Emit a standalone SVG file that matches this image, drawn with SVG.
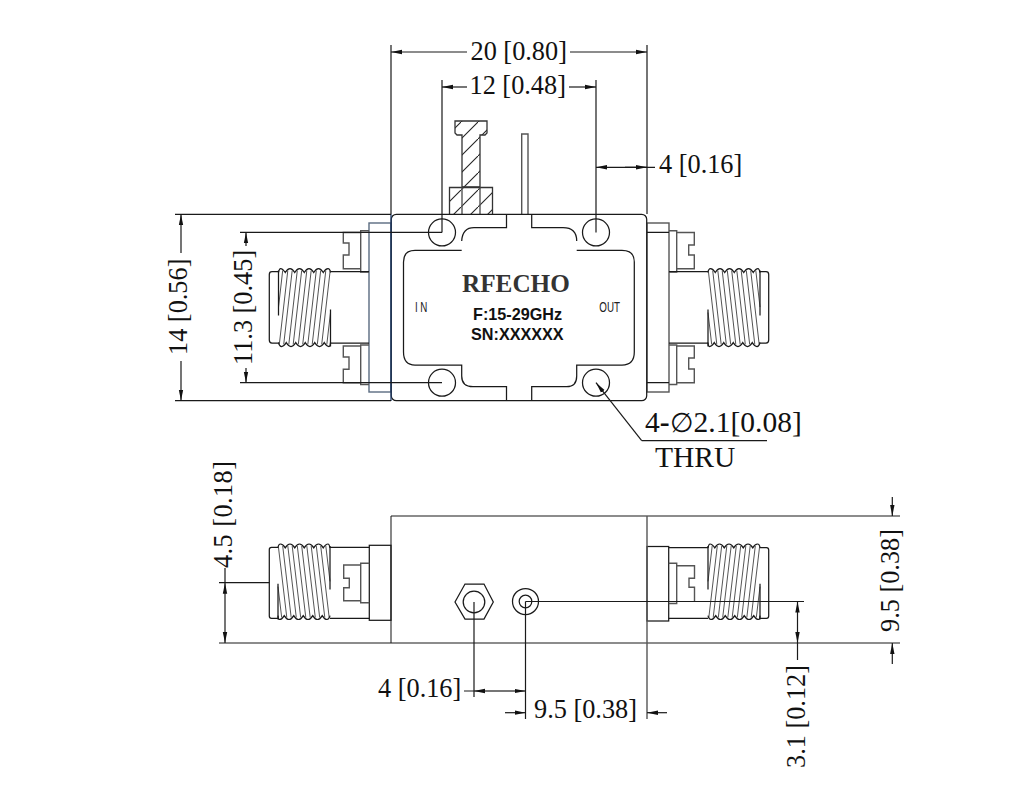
<svg xmlns="http://www.w3.org/2000/svg" width="1036" height="807" viewBox="0 0 1036 807">
<style>
.o{fill:none;stroke:#1a1a1a;stroke-width:1.25}
.g{fill:none;stroke:#555;stroke-width:1.4}
.d{fill:none;stroke:#1a1a1a;stroke-width:1.2}
.a{fill:none;stroke:#1a1a1a;stroke-width:1.2;marker-end:url(#arr)}
.t{fill:none;stroke:#333;stroke-width:.85}
.h{fill:url(#hatch);stroke:#333;stroke-width:1.3}
.dim{font-family:"Liberation Serif","Times New Roman",serif;font-size:26.3px;fill:#111}
.big{font-size:29.5px}
.lab{font-family:"Liberation Sans",Arial,sans-serif;font-size:14px;fill:#222}
.sn{font-family:"Liberation Sans",Arial,sans-serif;font-weight:bold;font-size:16.2px;fill:#111}
</style>
<defs>
<marker id="arr" markerUnits="userSpaceOnUse" markerWidth="12" markerHeight="6" refX="11" refY="3" orient="auto"><path d="M11,3 L0,.8 L0,5.2 Z" fill="#111"/></marker>
<pattern id="hatch" patternUnits="userSpaceOnUse" width="17" height="17" x="2" y="3"><path d="M-1,18 L18,-1" stroke="#222" stroke-width="1.1"/></pattern>
<g id="thread">
<path class="o" d="M0,4 Q.8,0 2,0 Q4.2,0 6.75,4 Q9,0 11.5,0 Q14,0 16.25,4 Q18.5,0 21,0 Q23.5,0 25.75,4 Q28,0 30.5,0 Q33,0 35.25,4 Q37.5,0 40,0 Q42.5,0 44.75,4 Q47,0 49.5,0 Q51.5,0 52,4"/>
<path class="o" d="M0,74 Q1,78 3,78 Q5.5,78 7.75,74 Q10,78 12.5,78 Q15,78 17.25,74 Q19.5,78 22,78 Q24.5,78 26.75,74 Q29,78 31.5,78 Q34,78 36.25,74 Q38.5,78 41,78 Q43.5,78 45.75,74 Q48,78 50.5,78 Q51.8,78 52,74"/>
<path class="t" d="M9.3,2 L.8,76 M13.7,2 L5.2,76 M18.8,2 L10.3,76 M23.2,2 L14.7,76 M28.3,2 L19.8,76 M32.7,2 L24.2,76 M37.8,2 L29.3,76 M42.2,2 L33.7,76 M47.3,2 L38.8,76 M51.7,2 L43.2,76 M4.2,2 L0,38.6 M48.3,76 L52,44"/>
<path class="o" d="M0,2 V47 M52,41 V78"/>
</g>
</defs>
<rect width="1036" height="807" fill="#fff"/>

<g id="top-view">
<g id="bolt">
<path class="h" d="M455,121 H487 V133 L485,135 H480 V187 H462 V135 H457 L455,133 Z"/>
<path class="h" d="M449.5,214 V187.5 H492.5 V214"/>
<path class="g" d="M462,187.5 V214 M480,187.5 V214"/>
</g>
<path id="pin" class="g" d="M521.7,214 V134 H528 V214"/>
<g id="conn-top-left">
<rect class="g" x="369" y="223" width="22" height="169" style="stroke:#5a6b80"/>
<path class="g" d="M369,230.7 H360.7 V272 H369 M369,345 H360.7 V384.5 H369"/>
<path class="g" d="M360.7,232.5 H343.3 V243 H349 V255 H343.3 V268.7 H360.7"/>
<path class="g" d="M360.7,346 H343.3 V357 H349 V369.3 H343.3 V382.7 H360.7"/>
<path class="o" d="M330,271.7 H369 M330,343 H369"/>
<path class="o" d="M279,271.7 H272 Q269.3,271.7 269.3,274.5 V340 Q269.3,343 272,343 H279"/>
<use href="#thread" transform="translate(278.5,268.5)"/>
</g>
<g id="conn-top-right">
<rect class="g" x="647" y="223" width="22" height="169"/>
<path class="g" d="M669,230.7 H676.7 V272 H669 M669,345 H676.7 V384.5 H669"/>
<path class="g" d="M676.7,232.5 H694.3 V245 H688.7 V255 H694.3 V268.7 H676.7"/>
<path class="g" d="M676.7,346 H694.3 V358 H688.7 V369 H694.3 V382.7 H676.7"/>
<path class="o" d="M669,271.7 H708 M669,343 H708"/>
<path class="o" d="M759,271.7 H766 Q768.7,271.7 768.7,274.5 V340 Q768.7,343 766,343 H759"/>
<use href="#thread" transform="translate(760,268.5) scale(-1,1)"/>
</g>
<g id="body-top">
<rect class="o" x="391.3" y="214.3" width="255.4" height="186.4" rx="5" style="fill:#fff"/>
<path d="M391,214 V401" fill="none" stroke="#1f3d6b" stroke-width="1.3"/>
<path class="o" d="M461.7,250.3 H415 Q403.5,250.3 403.5,262 V352 Q403.5,365 415,365 H461.7 V376 Q461.7,386.7 473,386.7 H506.5 V400.7 M531.7,400.7 V386.7 H566.7 Q576.7,386.7 576.7,376 V365 H622 Q634.3,365 634.3,352 V262 Q634.3,250.3 622,250.3 H576.7"/>
<path class="o" d="M461.7,241 Q462.5,227.7 474,227.7 H506.5 V214.3 M531.7,214.3 V227.7 H563 Q576.7,227.7 576.7,241"/>
<circle class="o" cx="442" cy="232.4" r="13.5"/>
<circle class="o" cx="596" cy="232.4" r="13.5"/>
<circle class="o" cx="442" cy="382.7" r="13.5"/>
<circle class="o" cx="596" cy="382.7" r="13.5"/>
<text x="462" y="291.5" font-family="'Liberation Serif','Times New Roman',serif" font-weight="bold" font-size="25.2" fill="#333">RFECHO</text>
<text class="sn" x="473" y="320">F:15-29GHz</text>
<text class="sn" x="471" y="340">SN:XXXXXX</text>
<text class="lab" transform="translate(415,311.7) scale(.7,1)" letter-spacing="3.7">IN</text>
<text class="lab" transform="translate(599.3,311.7) scale(.7,1)">OUT</text>
</g>
</g>

<g id="side-view">
<path id="body-side" class="g" d="M391,516 V643"/>
<g id="conn-side-left">
<rect class="o" x="369.3" y="545.3" width="21.7" height="75"/>
<path class="g" d="M369.3,563.3 H360.7 V602.7 H369.3"/>
<path class="g" d="M360.7,565 H343.7 V578.3 H349.3 V587.7 H343.7 V600.7 H360.7"/>
<path class="o" d="M330,547.3 H369.3 M330,618.3 H369.3"/>
<path class="o" d="M278,547.3 H271.5 Q269.3,547.3 269.3,549.5 V616 Q269.3,618.3 271.5,618.3 H278"/>
<use href="#thread" transform="translate(330,544) scale(-1,.968)"/>
</g>
<g id="conn-side-right">
<rect class="o" x="647" y="546.5" width="21.7" height="74.5"/>
<path class="g" d="M668.7,563.3 H676.7 V603.5 H668.7"/>
<path class="g" d="M676.7,565.7 H694.5 V578.3 H689 V587.3 H694.5 V601"/>
<path class="o" d="M668.7,547.7 H708 M668.7,618.3 H708"/>
<path class="o" d="M760,547.7 H766.5 Q768.7,547.7 768.7,550 V616 Q768.7,618.3 766.5,618.3 H760"/>
<use href="#thread" transform="translate(708,544) scale(1,.968)"/>
</g>
<g id="hex-nut">
<path class="o" d="M455,602 L465,584 H484 L493.3,602 L484,619 H465 Z"/>
<circle class="o" cx="474" cy="602" r="10.8"/>
</g>
<g id="coax">
<circle class="o" cx="525.5" cy="601.5" r="13"/>
<circle class="o" cx="525.5" cy="601.5" r="6.3"/>
</g>
</g>

<g id="connectors">
<path class="d" d="M391,45 V214 M647,45 V214"/>
<path class="a" d="M467,52 H391"/><path class="a" d="M570,52 H647"/>
<path class="d" d="M442,80 V232.4 M596,80 V232.4"/>
<path class="a" d="M467,87 H442"/><path class="a" d="M569,87 H596"/>
<path class="a" d="M655,167.3 H596"/><path class="a" d="M625,167.3 H647"/>
<path class="d" d="M175,214.3 H391 M175,400.7 H391"/>
<path class="a" d="M181,253 V214.3"/><path class="a" d="M181,361 V400.7"/>
<path class="d" d="M240,232.4 H442 M240,382.7 H442"/>
<path class="a" d="M246,246 V232.4"/><path class="a" d="M246,368 V382.7"/>
<path class="d" d="M647,232.4 H669 M647,382.7 H669"/>
<path class="a" d="M641.7,440.7 L596,382.7"/>
<path class="d" d="M641.7,440.7 H767"/>
<path class="d" d="M391,516 H900 M219,643 H900"/>
<path class="g" d="M647,516 V719"/>
<path class="d" d="M219,582.7 H269.3 M225,568 V582.7"/>
<path class="a" d="M225,613 V582.7"/><path class="a" d="M225,613 V643"/>
<path class="d" d="M474,602 V697 M525.5,601.5 V719 M464,691 H474"/>
<path class="a" d="M500,691 H474"/><path class="a" d="M500,691 H525.5"/>
<path class="a" d="M505,712.7 H525.5"/><path class="a" d="M667,712.7 H647"/>
<path class="d" d="M525.5,601.5 H804"/>
<path class="a" d="M797.5,622 V601.5"/><path class="a" d="M797.5,622 V643"/>
<path class="d" d="M797.5,643 V660"/>
<path class="a" d="M892.3,497 V516"/><path class="a" d="M892.3,664 V643"/>
</g>

<g id="labels">
<text class="dim" x="470.5" y="60">20 [0.80]</text>
<text class="dim" x="469.5" y="93.5">12 [0.48]</text>
<text class="dim" x="659" y="173">4 [0.16]</text>
<text class="dim" transform="translate(187,355) rotate(-90)">14 [0.56]</text>
<text class="dim" transform="translate(252,365) rotate(-90)">11.3 [0.45]</text>
<text class="dim big" x="645" y="431.7">4<tspan font-weight="bold">-</tspan><tspan font-size="27">∅</tspan>2.1[0.08]</text>
<text class="dim big" x="655" y="467.3">THRU</text>
<text class="dim" transform="translate(232,568) rotate(-90)" textLength="107">4.5 [0.18]</text>
<text class="dim" x="378" y="696.7">4 [0.16]</text>
<text class="dim" x="534" y="718.3">9.5 [0.38]</text>
<text class="dim" transform="translate(805,768) rotate(-90)">3.1 [0.12]</text>
<text class="dim" transform="translate(899,632) rotate(-90)">9.5 [0.38]</text>
</g>
</svg>
